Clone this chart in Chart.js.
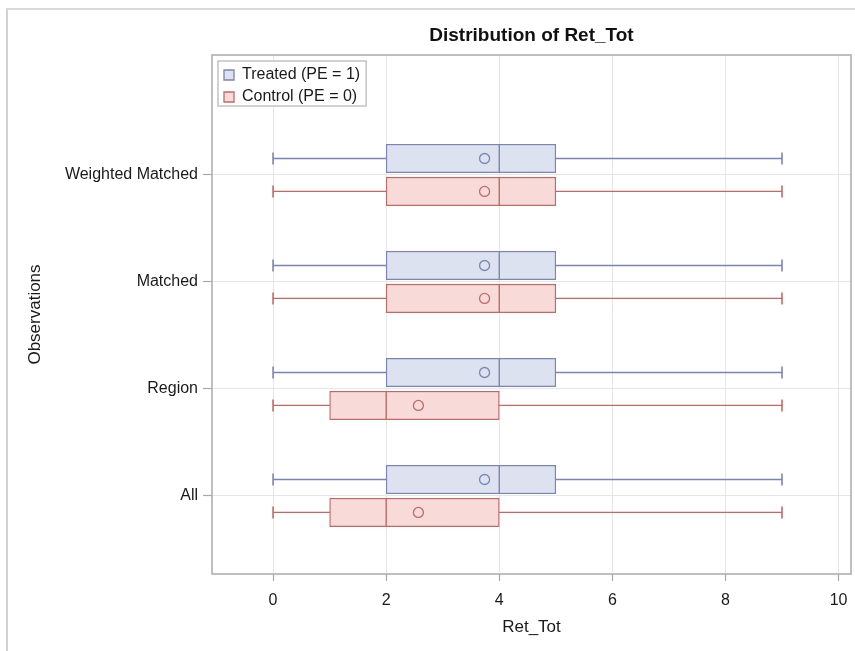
<!DOCTYPE html>
<html>
<head>
<meta charset="utf-8">
<script src="https://cdn.jsdelivr.net/npm/chart.js@4.4.1/dist/chart.umd.min.js"></script>
<style>
  html, body { margin: 0; padding: 0; background: #ffffff; }
  #wrap { position: relative; width: 855px; height: 651px; overflow: hidden; }
  #frame { position: absolute; left: 6px; top: 8px; right: -10px; bottom: -10px;
           border-left: 2px solid #d2d2d2; border-top: 2px solid #dadada; pointer-events: none; }
  canvas { display: block; }
</style>
</head>
<body>
<div id="wrap">
  <canvas id="c" width="855" height="651"></canvas>
  <div id="frame"></div>
</div>
<script>
// ---------- data ----------
const categories = ['All', 'Region', 'Matched', 'Weighted Matched'];
const xTickValues = [0, 2, 4, 6, 8, 10];

const treatedMin  = [0, 0, 0, 0];
const treatedQ1   = [2, 2, 2, 2];
const treatedMed  = [4, 4, 4, 4];
const treatedQ3   = [5, 5, 5, 5];
const treatedMax  = [9, 9, 9, 9];
const treatedMean = [3.74, 3.74, 3.74, 3.74];

const controlMin  = [0, 0, 0, 0];
const controlQ1   = [1, 1, 2, 2];
const controlMed  = [2, 2, 4, 4];
const controlQ3   = [4, 4, 5, 5];
const controlMax  = [9, 9, 9, 9];
const controlMean = [2.57, 2.57, 3.74, 3.74];

// ---------- styling / layout ----------
const FONT = "'Liberation Sans', Arial, sans-serif";
const groupOffset = 0.154;
const boxThickness = 28.5;
const T = { fill: '#dde2f1', line: '#7a85b4', label: 'Treated (PE = 1)', sign: 1 };
const C = { fill: '#f8dbd9', line: '#c06a66', label: 'Control (PE = 0)', sign: -1 };

function pos(i, g) { return i + g.sign * groupOffset; }

function groupDatasets(g, mn, q1, med, q3, mx, mean) {
  return [
    { type: 'line', data: categories.flatMap((c, i) => [{x: mn[i], y: pos(i, g)}, {x: mx[i], y: pos(i, g)}, {x: null, y: null}]),
      borderColor: g.line, borderWidth: 1.3, pointRadius: 0, spanGaps: false, fill: false, order: 5 },
    { type: 'scatter', data: categories.flatMap((c, i) => [{x: mn[i], y: pos(i, g)}, {x: mx[i], y: pos(i, g)}]),
      pointStyle: 'line', pointRotation: 90, pointRadius: 6, pointHoverRadius: 6,
      pointBorderColor: g.line, borderColor: g.line, pointBorderWidth: 1.6, order: 4 },
    { type: 'bar', label: g.label, showInLegend: true,
      data: categories.map((c, i) => ({y: pos(i, g), x: [q1[i], q3[i]]})),
      backgroundColor: g.fill, borderColor: g.line, borderWidth: 1.3, borderSkipped: false,
      barThickness: boxThickness, grouped: false, order: 3 },
    { type: 'scatter', data: categories.map((c, i) => ({x: med[i], y: pos(i, g)})),
      pointStyle: 'line', pointRotation: 90, pointRadius: boxThickness / 2, pointHoverRadius: boxThickness / 2,
      pointBorderColor: g.line, borderColor: g.line, pointBorderWidth: 1.4, order: 2 },
    { type: 'scatter', data: categories.map((c, i) => ({x: mean[i], y: pos(i, g)})),
      pointStyle: 'circle', pointRadius: 5, pointHoverRadius: 5,
      pointBackgroundColor: 'rgba(0,0,0,0)', pointBorderColor: g.line, borderColor: g.line,
      pointBorderWidth: 1.3, order: 1 }
  ];
}

const chromePlugin = {
  id: 'chrome',
  afterLayout(chart) {
    const lg = chart.legend, a = chart.chartArea;
    if (!lg) return;
    const dy = a.top + 6 - lg.top, dx = a.left + 6 - lg.left;
    lg.top += dy; lg.bottom += dy; lg.left += dx; lg.right += dx;
    (lg.legendHitBoxes || []).forEach(h => { h.top += dy; h.left += dx; });
  },
  afterDraw(chart) {
    const ctx = chart.ctx, a = chart.chartArea;
    ctx.save();
    ctx.strokeStyle = '#b0b0b0';
    ctx.lineWidth = 1.6;
    ctx.strokeRect(a.left, a.top, a.right - a.left, a.bottom - a.top);
    const lg = chart.legend;
    if (lg && lg.legendHitBoxes && lg.legendHitBoxes.length) {
      let x1 = -Infinity, y0 = Infinity, y1 = -Infinity;
      lg.legendHitBoxes.forEach(h => {
        y0 = Math.min(y0, h.top);
        x1 = Math.max(x1, h.left + h.width); y1 = Math.max(y1, h.top + h.height);
      });
      const L = lg.left, Tp = y0 - 6, R = x1, B = y1 + 1;
      ctx.fillStyle = '#ffffff';
      ctx.fillRect(L, Tp, R - L, B - Tp);
      ctx.strokeStyle = '#b4b4b4';
      ctx.lineWidth = 1.2;
      ctx.strokeRect(L, Tp, R - L, B - Tp);
      ctx.restore();
      lg.draw();
      ctx.save();
    }
    ctx.fillStyle = '#111111';
    ctx.font = "bold 19px " + FONT;
    ctx.textAlign = 'center';
    ctx.textBaseline = 'middle';
    ctx.fillText('Distribution of Ret_Tot', (a.left + a.right) / 2, 36);
    ctx.restore();
  }
};

new Chart(document.getElementById('c'), {
  type: 'bar',
  data: {
    datasets: [
      ...groupDatasets(T, treatedMin, treatedQ1, treatedMed, treatedQ3, treatedMax, treatedMean),
      ...groupDatasets(C, controlMin, controlQ1, controlMed, controlQ3, controlMax, controlMean)
    ]
  },
  options: {
    responsive: false,
    animation: false,
    events: [],
    indexAxis: 'y',
    layout: { autoPadding: false, padding: { top: 55, right: 4, left: 0, bottom: 0 } },
    plugins: {
      tooltip: { enabled: false },
      title: { display: false },
      legend: {
        display: true,
        position: 'chartArea',
        align: 'start',
        labels: {
          filter: (item, data) => !!data.datasets[item.datasetIndex].showInLegend,
          boxWidth: 10, boxHeight: 10, padding: 6,
          color: '#1a1a1a',
          font: { family: FONT, size: 16 }
        }
      }
    },
    scales: {
      x: {
        type: 'linear',
        min: -1.08, max: 10.22,
        offset: false,
        afterBuildTicks: s => { s.ticks = xTickValues.map(v => ({ value: v })); },
        afterFit: s => { s.height = 77; s.paddingLeft = 0; s.paddingRight = 0; },
        grid: { offset: false, color: '#e6e6e6', lineWidth: 1, drawTicks: true, tickLength: 7, tickColor: '#a8a8a8', tickWidth: 1.2 },
        border: { display: false },
        ticks: { color: '#1a1a1a', font: { family: FONT, size: 16 }, padding: 10, maxRotation: 0 },
        title: { display: true, text: 'Ret_Tot', color: '#1a1a1a', font: { family: FONT, size: 17 }, padding: { top: 0, bottom: 13 } }
      },
      y: {
        type: 'linear',
        min: -0.729, max: 4.121,
        offset: false,
        afterBuildTicks: s => { s.ticks = categories.map((c, i) => ({ value: i })); },
        afterFit: s => { s.width = 212; s.paddingTop = 0; s.paddingBottom = 0; },
        grid: { offset: false, color: '#e6e6e6', lineWidth: 1, drawTicks: true, tickLength: 9, tickColor: '#a8a8a8', tickWidth: 1.2 },
        border: { display: false },
        ticks: { color: '#1a1a1a', font: { family: FONT, size: 16 }, padding: 5,
                 callback: v => categories[v] !== undefined ? categories[v] : '' },
        title: { display: true, text: 'Observations', color: '#1a1a1a', font: { family: FONT, size: 17 }, padding: { top: 25, bottom: 0 } }
      }
    }
  },
  plugins: [chromePlugin]
});
</script>
</body>
</html>
